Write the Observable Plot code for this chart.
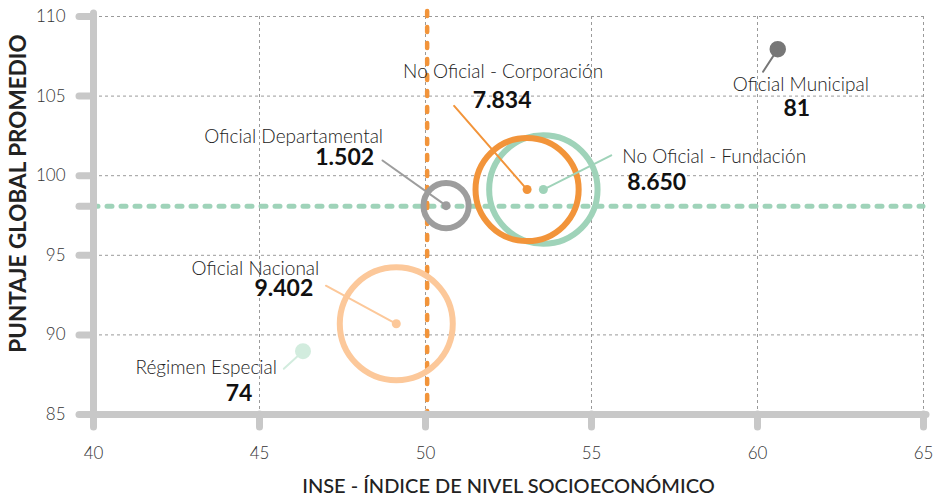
<!DOCTYPE html>
<html>
<head>
<meta charset="utf-8">
<script src="https://cdn.jsdelivr.net/npm/d3@7"></script>
<script src="https://cdn.jsdelivr.net/npm/@observablehq/plot@0.6"></script>
<style>
  html, body { margin: 0; padding: 0; background: #ffffff; }
  #chart { width: 938px; height: 499px; }
</style>
</head>
<body>
<div id="chart"></div>
<script>
// ---- data ----
const categories = ["Oficial Nacional", "Oficial Departamental", "No Oficial - Corporación", "No Oficial - Fundación", "Oficial Municipal", "Régimen Especial"];
const counts     = [9402, 1502, 7834, 8650, 81, 74];
const inse       = [49.12, 50.62, 53.06, 53.55, 60.61, 46.31];
const puntaje    = [90.70, 98.12, 99.13, 99.13, 107.95, 88.98];
const meanInse = 50.05;
const meanPuntaje = 98.08;
const xTicks = [40, 45, 50, 55, 60, 65];
const yTicks = [85, 90, 95, 100, 105, 110];
const xTitle = "INSE - ÍNDICE DE NIVEL SOCIOECONÓMICO";
const yTitle = "PUNTAJE GLOBAL PROMEDIO";

// ---- styles / annotation layout (pixels) ----
const colors = {
  "Oficial Nacional": "#fcc89a",
  "Oficial Departamental": "#9d9d9d",
  "No Oficial - Corporación": "#f2943a",
  "No Oficial - Fundación": "#9fd3b9",
  "Oficial Municipal": "#777777",
  "Régimen Especial": "#d2ecde"
};
const layout = {
  "Oficial Nacional":         {la: "end",    ldx: -77, ldy: -49, na: "end",    ndx: -83, ndy: -28, rot: 298.4, len: 80},
  "Oficial Departamental":    {la: "end",    ldx: -63, ldy: -63, na: "end",    ndx: -72, ndy: -41, rot: 305.4, len: 78},
  "No Oficial - Corporación": {la: "middle", ldx: -24, ldy: -112, na: "middle", ndx: -25, ndy: -82, rot: 318.9, len: 111},
  "No Oficial - Fundación":   {la: "start",  ldx: 79,  ldy: -27, na: "start",  ndx: 84,  ndy: 0,   rot: 63.3,  len: 76},
  "Oficial Municipal":        {la: "middle", ldx: 23,  ldy: 42,  na: "middle", ndx: 19,  ndy: 67,  rot: 213,   len: 27},
  "Régimen Especial":         {la: "end",    ldx: -26, ldy: 23,  na: "middle", ndx: -64, ndy: 50,  rot: 227.5, len: 26}
};

const fmt = d3.formatLocale({decimal: ",", thousands: ".", grouping: [3], currency: ["$", ""]}).format(",d");
const rows = categories.map((name, i) => ({name, count: counts[i], x: inse[i], y: puntaje[i], num: fmt(counts[i]), color: colors[name]}));

const axisGray = "#c8c8c8";
const line = {draw(context, l) { context.moveTo(0, 0); context.lineTo(0, -l); }};

const marks = [
  Plot.gridX(xTicks.slice(1), {stroke: "#9a9a9a", strokeOpacity: 1, strokeWidth: 1, strokeDasharray: "3,3"}),
  Plot.gridY(yTicks.slice(1), {stroke: "#9a9a9a", strokeOpacity: 1, strokeWidth: 1, strokeDasharray: "3,3"}),
  Plot.ruleY([meanPuntaje], {stroke: "#9fd3b9", strokeWidth: 5, strokeDasharray: "5,9", strokeLinecap: "round"}),
  Plot.ruleX([meanInse], {stroke: "#f2943a", strokeWidth: 4.5, strokeDasharray: "5,11", strokeLinecap: "round", insetTop: -5}),
  Plot.dot(rows, {x: "x", y: "y", r: "count", stroke: "color", strokeWidth: 6, fill: "none"}),
  Plot.dot(rows, {x: "x", y: "y", r: 4.5, fill: "color", stroke: "none"})
];

for (const d of rows) {
  const L = layout[d.name];
  marks.push(
    Plot.vector([d], {x: "x", y: "y", rotate: L.rot, length: L.len, anchor: "start", shape: line, stroke: d.color, strokeWidth: 2}),
    Plot.text([d], {x: "x", y: "y", text: "name", textAnchor: L.la, lineAnchor: "bottom", dx: L.ldx, dy: L.ldy, fontSize: 19, fontWeight: 300, fill: "#222"}),
    Plot.text([d], {x: "x", y: "y", text: "num", textAnchor: L.na, lineAnchor: "bottom", dx: L.ndx, dy: L.ndy, fontSize: 23, fontWeight: 700, fill: "#111"})
  );
}

marks.push(
  Plot.ruleY([85], {stroke: axisGray, strokeWidth: 7, strokeLinecap: "round", insetRight: -3}),
  Plot.ruleX([40], {stroke: axisGray, strokeWidth: 7, strokeLinecap: "round", insetTop: -3}),
  Plot.axisX(xTicks, {tickSize: 13, tickPadding: 19, stroke: axisGray, strokeWidth: 7, strokeLinecap: "round", fill: "#333", fontSize: 17, fontWeight: 300, label: null}),
  Plot.axisY(yTicks, {tickSize: 14, tickPadding: 14, stroke: axisGray, strokeWidth: 7, strokeLinecap: "round", fill: "#333", fontSize: 17, fontWeight: 300, label: null}),
  Plot.axisY([meanPuntaje], {tickSize: 14, tickFormat: () => "", stroke: axisGray, strokeWidth: 7, strokeLinecap: "round", label: null}),
  Plot.text([xTitle], {frameAnchor: "bottom", textAnchor: "middle", lineAnchor: "bottom", dy: 78, fontSize: 20, fontWeight: 500, fill: "#222"}),
  Plot.text([yTitle], {frameAnchor: "left", textAnchor: "middle", rotate: -90, lineAnchor: "middle", dx: -74.5, dy: -22, fontSize: 22.5, fontWeight: 700, fill: "#222"})
);

const chart = Plot.plot({
  width: 938,
  height: 499,
  marginLeft: 93,
  marginRight: 15,
  marginTop: 16,
  marginBottom: 85,
  x: {domain: [40, 65]},
  y: {domain: [85, 110]},
  r: {type: "sqrt", domain: [0, 9402], range: [0, 56.5]},
  color: {type: "identity"},
  style: {fontFamily: "Lato, sans-serif", background: "#ffffff", color: "#333", overflow: "visible"},
  marks
});
document.getElementById("chart").appendChild(chart);
</script>
</body>
</html>
